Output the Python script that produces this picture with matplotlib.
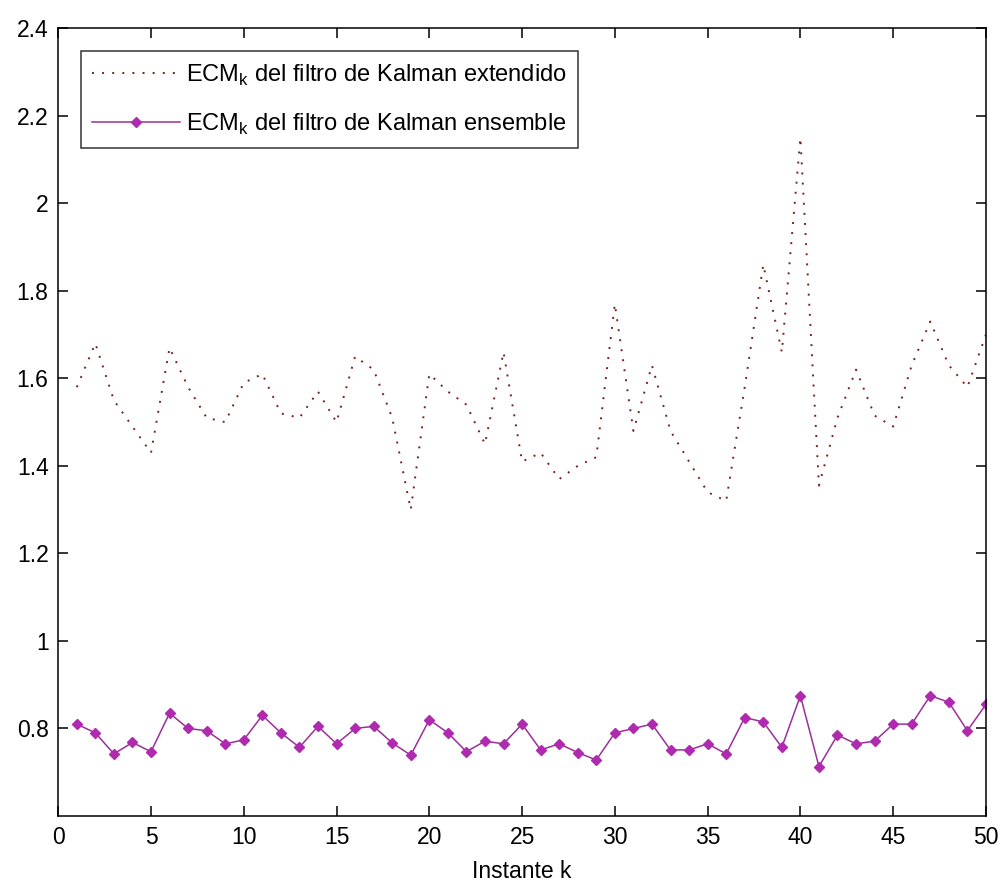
import numpy as np
import matplotlib.pyplot as plt
from matplotlib.ticker import FuncFormatter

plt.rcParams['font.family'] = ['Liberation Sans', 'DejaVu Sans']
plt.rcParams['mathtext.fontset'] = 'custom'
plt.rcParams['mathtext.rm'] = 'Liberation Sans'

k = np.arange(1, 51)

ecm_extendido = [
    1.58, 1.68, 1.55, 1.49, 1.43, 1.67, 1.58, 1.51, 1.50, 1.59,
    1.61, 1.52, 1.51, 1.57, 1.50, 1.65, 1.62, 1.51, 1.30, 1.61,
    1.57, 1.54, 1.45, 1.66, 1.41, 1.43, 1.37, 1.40, 1.42, 1.77,
    1.48, 1.63, 1.48, 1.41, 1.34, 1.32, 1.58, 1.86, 1.66, 2.15,
    1.355, 1.51, 1.62, 1.515, 1.49, 1.63, 1.73, 1.63, 1.58, 1.70,
]

ecm_ensemble = [
    0.81, 0.79, 0.742, 0.768, 0.747, 0.835, 0.80, 0.795, 0.765, 0.774,
    0.83, 0.79, 0.757, 0.805, 0.765, 0.80, 0.805, 0.767, 0.739, 0.82,
    0.79, 0.747, 0.771, 0.765, 0.81, 0.751, 0.765, 0.745, 0.728, 0.79,
    0.80, 0.81, 0.751, 0.751, 0.765, 0.742, 0.825, 0.815, 0.757, 0.875,
    0.713, 0.785, 0.765, 0.771, 0.81, 0.81, 0.875, 0.86, 0.795, 0.855,
]

fig = plt.figure(figsize=(10.04, 8.86), dpi=100)
ax = fig.add_axes([0.058, 0.079, 0.924, 0.889])

ax.plot(k, ecm_extendido, linestyle=(0, (1, 4.2)), color='#7a1f1f', linewidth=1.4,
        label=r'ECM$_\mathrm{k}$ del filtro de Kalman extendido')
ax.plot(k, ecm_ensemble, linestyle='-', color='#9a309a', linewidth=1.1,
        marker='D', markersize=5.5, markerfacecolor='#b02ab0', markeredgecolor='#b02ab0',
        label=r'ECM$_\mathrm{k}$ del filtro de Kalman ensemble')

ax.set_xlim(0, 50)
ax.set_ylim(0.6, 2.4)
ax.set_xticks(np.arange(0, 51, 5))
ax.set_yticks(np.arange(0.8, 2.41, 0.2))
ax.yaxis.set_major_formatter(FuncFormatter(lambda v, p: f'{v:g}'))
ax.tick_params(direction='in', top=True, right=True, length=7, width=1.1,
               labelsize=16.5, pad=7)
for s in ax.spines.values():
    s.set_linewidth(1.1)
ax.set_xlabel('Instante k', fontsize=16.5, labelpad=8)

leg = ax.legend(loc='upper left', fontsize=17, frameon=True, fancybox=False,
                handlelength=3.7, borderaxespad=0.95, borderpad=0.5,
                labelspacing=1.0, handletextpad=0.25)
leg.get_frame().set_edgecolor('black')
leg.get_frame().set_linewidth(1.1)

fig.savefig('out.png', dpi=100)
